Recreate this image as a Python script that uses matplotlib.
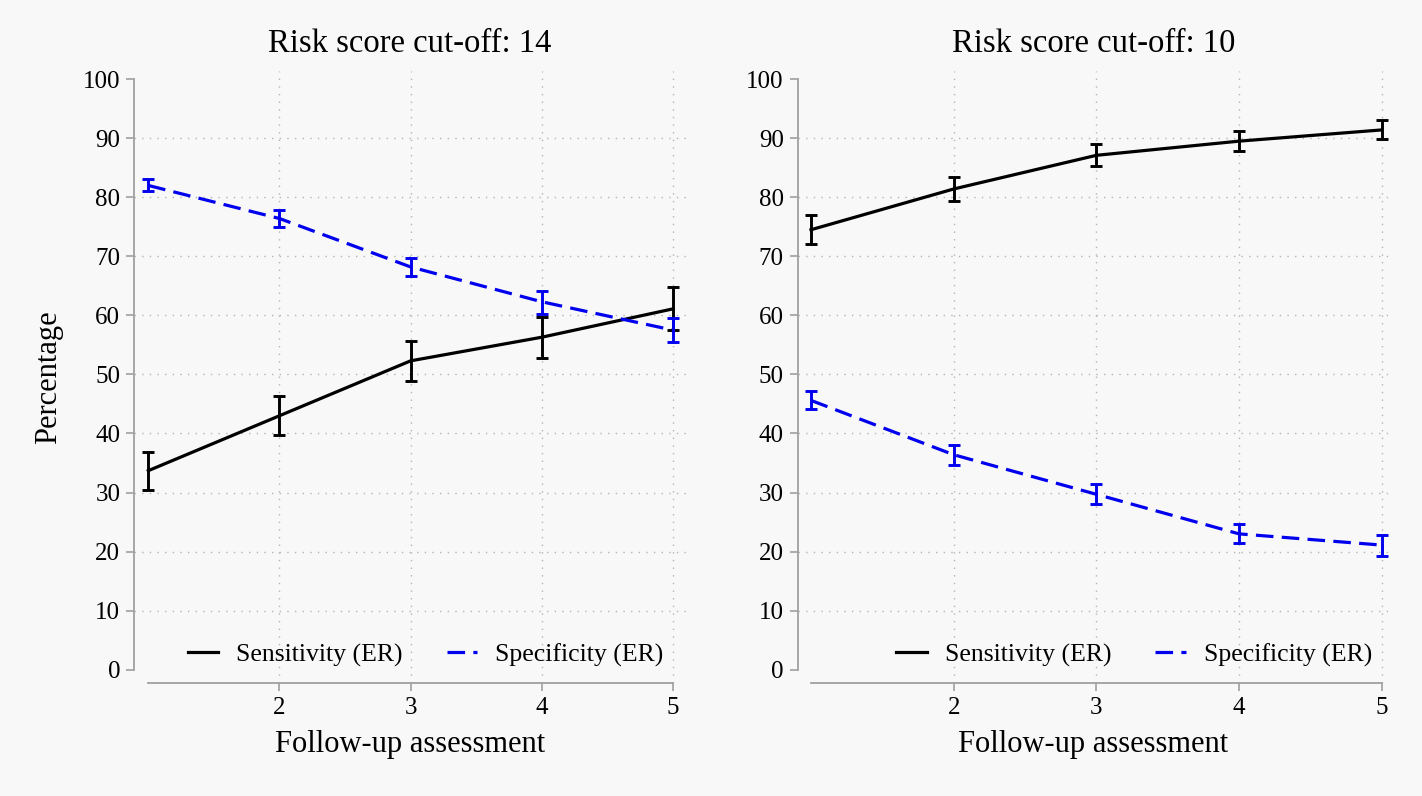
import numpy as np
import matplotlib.pyplot as plt

plt.rcParams['font.family'] = ['Liberation Serif', 'DejaVu Serif']

# Follow-up assessment number
followup = [1, 2, 3, 4, 5]

# Risk score cut-off 14
sens14 = [33.7, 43.0, 52.3, 56.3, 61.1]
sens14_lo = [30.4, 39.7, 48.9, 52.8, 57.5]
sens14_hi = [36.9, 46.4, 55.7, 59.8, 64.8]
spec14 = [82.0, 76.4, 68.2, 62.3, 57.5]
spec14_lo = [81.0, 75.0, 66.7, 60.3, 55.5]
spec14_hi = [83.1, 77.8, 69.7, 64.2, 59.5]

# Risk score cut-off 10
sens10 = [74.5, 81.4, 87.1, 89.5, 91.4]
sens10_lo = [72.0, 79.4, 85.3, 87.8, 89.8]
sens10_hi = [77.0, 83.5, 89.0, 91.2, 93.0]
spec10 = [45.6, 36.4, 29.7, 23.0, 21.1]
spec10_lo = [44.1, 34.7, 28.1, 21.4, 19.3]
spec10_hi = [47.2, 38.0, 31.5, 24.7, 22.8]

bg = '#f8f8f8'
axis_gray = '#a0a0a0'
grid_gray = '#b4b4b4'
blue = '#0000ee'


def draw_panel(ax, titulo, sens, s_lo, s_hi, spec, p_lo, p_hi, xlim, leg_x, ylabel=None):
    ax.set_facecolor(bg)
    x = np.array(followup)
    for y, lo, hi, cor, ls, nome in [
        (sens, s_lo, s_hi, 'black', '-', 'Sensitivity (ER)'),
        (spec, p_lo, p_hi, blue, (0, (5.5, 2.6)), 'Specificity (ER)'),
    ]:
        y = np.array(y)
        yerr = [y - np.array(lo), np.array(hi) - y]
        ax.plot(x, y, color=cor, linestyle=ls, lw=2.3, label=nome, zorder=3, clip_on=False)
        ax.errorbar(x, y, yerr=yerr, fmt='none', ecolor=cor, elinewidth=2.1,
                    capsize=4, capthick=2.1, zorder=4, clip_on=False)

    ax.set_xlim(*xlim)
    ax.set_ylim(-2.3, 101.35)

    for lado in ['top', 'right']:
        ax.spines[lado].set_visible(False)
    for lado in ['left', 'bottom']:
        ax.spines[lado].set_color(axis_gray)
        ax.spines[lado].set_linewidth(1.3)
    ax.spines['left'].set_bounds(0, 100)
    ax.spines['bottom'].set_bounds(1, 5)

    ax.set_yticks(range(0, 101, 10))
    ax.set_xticks([2, 3, 4, 5])
    ax.tick_params(which='major', direction='out', length=6, width=1.2,
                   color=axis_gray, labelsize=18, pad=4)

    ax.grid(True, linestyle=(0, (1, 4.5)), color=grid_gray, lw=1)
    # sem linha de grade em 0 e 100
    yticks = ax.yaxis.get_major_ticks()
    yticks[0].gridline.set_visible(False)
    yticks[-1].gridline.set_visible(False)
    ax.set_axisbelow(True)

    ax.set_title(titulo, fontsize=23.5, pad=14)
    ax.set_xlabel('Follow-up assessment', fontsize=22, labelpad=8)
    if ylabel:
        ax.set_ylabel(ylabel, fontsize=22, labelpad=14)

    leg = ax.legend(loc='center', bbox_to_anchor=(leg_x, 0.046), ncol=2, frameon=False,
                    fontsize=18.5, handlelength=1.2, columnspacing=1.7, handletextpad=0.7)
    return leg


fig = plt.figure(figsize=(14.22, 7.96), dpi=100, facecolor=bg)
ax1 = fig.add_axes([0.0944, 0.1416, 0.388, 0.769])
ax2 = fig.add_axes([0.561, 0.1416, 0.4158, 0.769])

draw_panel(ax1, 'Risk score cut-off: 14', sens14, sens14_lo, sens14_hi,
           spec14, spec14_lo, spec14_hi, (0.893, 5.099), 0.528, ylabel='Percentage')
draw_panel(ax2, 'Risk score cut-off: 10', sens10, sens10_lo, sens10_hi,
           spec10, spec10_lo, spec10_hi, (0.907, 5.051), 0.569)

plt.savefig('out.png', dpi=100, facecolor=bg)
